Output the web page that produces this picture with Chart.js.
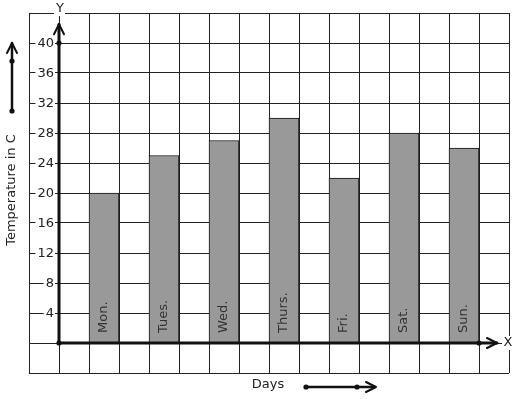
<!DOCTYPE html>
<html>
<head>
<meta charset="utf-8">
<script src="https://cdn.jsdelivr.net/npm/chart.js@4/dist/chart.umd.min.js"></script>
<style>
  html, body { margin: 0; padding: 0; background: #fff; }
  #wrap { width: 517px; height: 399px; }
</style>
</head>
<body>
<div id="wrap"><canvas id="chart" width="517" height="399"></canvas></div>
<script>
// days and temperatures
const days = ["Mon.", "Tues.", "Wed.", "Thurs.", "Fri.", "Sat.", "Sun."];
const temps = [20, 25, 27, 30, 22, 28, 26];
// bars sit in every second grid column, starting one column right of the Y axis
const dayPositions = [1.5, 3.5, 5.5, 7.5, 9.5, 11.5, 13.5];
const yTickLabels = [4, 8, 12, 16, 20, 24, 28, 32, 36, 40];

const FONT = "13px 'DejaVu Sans', sans-serif";
const INK = "#111";

function dot(ctx, x, y) {
  ctx.beginPath();
  ctx.arc(x, y, 2.6, 0, Math.PI * 2);
  ctx.fill();
}

function chevron(ctx, tx, ty, dx, dy) {
  // open arrow head pointing in direction (dx, dy)
  const len = 10, half = 5;
  const px = -dy, py = dx;
  ctx.beginPath();
  ctx.moveTo(tx - dx * len + px * half, ty - dy * len + py * half);
  ctx.lineTo(tx, ty);
  ctx.lineTo(tx - dx * len - px * half, ty - dy * len - py * half);
  ctx.stroke();
}

// axes, arrows, labels on top of the grid
const graphPaper = {
  id: "graphPaper",
  afterDatasetsDraw(chart) {
    const { ctx, scales: { x, y } } = chart;
    const ox = x.getPixelForValue(0);
    const oy = y.getPixelForValue(0);
    ctx.save();
    ctx.strokeStyle = INK;
    ctx.fillStyle = INK;
    ctx.lineCap = "round";
    ctx.lineJoin = "round";

    // day names inside bars
    const meta = chart.getDatasetMeta(0);
    ctx.font = FONT;
    ctx.fillStyle = "#333";
    ctx.textAlign = "left";
    ctx.textBaseline = "middle";
    meta.data.forEach((bar, i) => {
      ctx.save();
      ctx.translate(bar.x, oy - 10);
      ctx.rotate(-Math.PI / 2);
      ctx.fillText(days[i], 0, 0);
      ctx.restore();
    });

    // y tick labels with white backdrop
    ctx.textAlign = "right";
    yTickLabels.forEach(v => {
      const py = y.getPixelForValue(v);
      const txt = String(v);
      const w = ctx.measureText(txt).width;
      ctx.fillStyle = "#fff";
      ctx.fillRect(54 - w - 2, py - 6, w + 3, 12);
      ctx.fillStyle = "#222";
      ctx.fillText(txt, 54, py + 0.5);
    });

    ctx.fillStyle = INK;
    // Y axis
    ctx.lineWidth = 3;
    const yTop = y.getPixelForValue(42.5);
    ctx.beginPath();
    ctx.moveTo(ox, oy);
    ctx.lineTo(ox, yTop);
    ctx.stroke();
    ctx.lineWidth = 2;
    chevron(ctx, ox, yTop, 0, -1);
    // X axis
    ctx.lineWidth = 3;
    const xEnd = x.getPixelForValue(14.6);
    ctx.beginPath();
    ctx.moveTo(ox, oy);
    ctx.lineTo(xEnd, oy);
    ctx.stroke();
    ctx.lineWidth = 2;
    chevron(ctx, xEnd, oy, 1, 0);
    dot(ctx, ox, oy);
    dot(ctx, ox, y.getPixelForValue(40));
    dot(ctx, x.getPixelForValue(14), oy);

    // axis letters
    ctx.font = FONT;
    ctx.textAlign = "center";
    ctx.textBaseline = "middle";
    ctx.fillStyle = "#fff";
    ctx.fillRect(ox - 5, 3, 11, 13);
    ctx.fillRect(502, oy - 7, 13, 14);
    ctx.fillStyle = "#222";
    ctx.fillText("Y", ox + 1, 9);
    ctx.fillText("X", 508, oy);

    // axis titles
    ctx.fillText("Days", 268, 385);
    ctx.save();
    ctx.translate(12, 190);
    ctx.rotate(-Math.PI / 2);
    ctx.fillText("Temperature in C", 0, 0);
    ctx.restore();

    // direction arrows beside the titles
    ctx.fillStyle = INK;
    ctx.lineWidth = 2.5;
    ctx.beginPath();
    ctx.moveTo(12, 111);
    ctx.lineTo(12, 43);
    ctx.stroke();
    ctx.lineWidth = 2;
    chevron(ctx, 12, 43, 0, -1);
    dot(ctx, 12, 61);
    dot(ctx, 12, 111);

    ctx.lineWidth = 2.5;
    ctx.beginPath();
    ctx.moveTo(306, 387);
    ctx.lineTo(375, 387);
    ctx.stroke();
    ctx.lineWidth = 2;
    chevron(ctx, 376, 387, 1, 0);
    dot(ctx, 306, 387);
    dot(ctx, 357, 387);

    ctx.restore();
  }
};

new Chart(document.getElementById("chart"), {
  type: "bar",
  data: {
    datasets: [{
      data: dayPositions.map((p, i) => ({ x: p, y: temps[i] })),
      backgroundColor: "#999999",
      borderColor: INK,
      borderWidth: 1,
      barPercentage: 1.0,
      categoryPercentage: 1.0
    }]
  },
  options: {
    responsive: false,
    animation: false,
    devicePixelRatio: 1,
    layout: { padding: { left: 29, right: 8, top: 13, bottom: 26 } },
    plugins: { legend: { display: false }, tooltip: { enabled: false } },
    scales: {
      x: {
        type: "linear",
        min: -1,
        max: 15,
        offset: false,
        ticks: { display: false, stepSize: 1 },
        grid: { color: "#222", lineWidth: 1, drawTicks: false, offset: false },
        border: { display: false },
        afterFit: s => { s.height = 0; }
      },
      y: {
        min: -4,
        max: 44,
        ticks: { display: false, stepSize: 4 },
        grid: { color: "#222", lineWidth: 1, drawTicks: false },
        border: { display: false },
        afterFit: s => { s.width = 0; }
      }
    }
  },
  plugins: [graphPaper]
});
</script>
</body>
</html>
